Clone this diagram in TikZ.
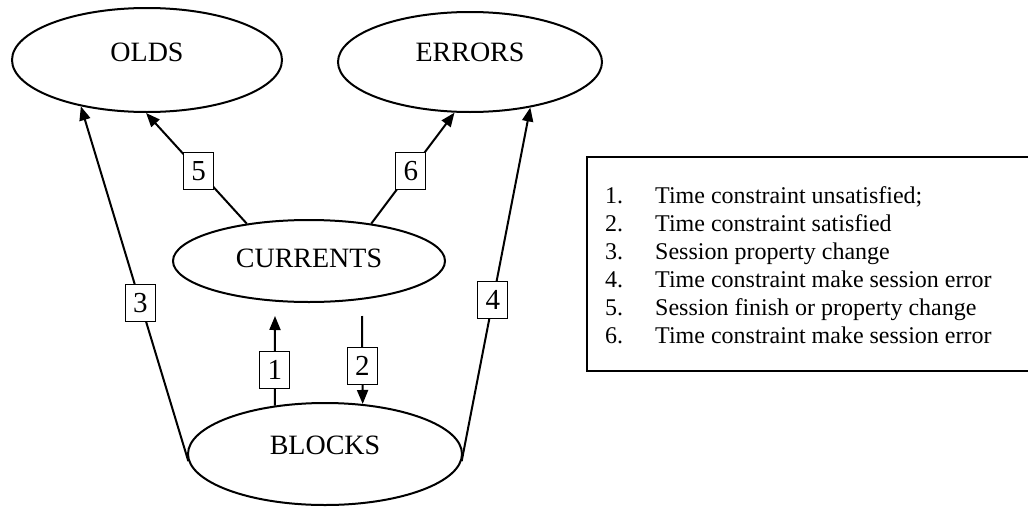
\documentclass[tikz,border=0pt]{standalone}
\usepackage{fontspec}
\setmainfont{Liberation Serif}
\usetikzlibrary{arrows.meta,shapes.geometric}
\begin{document}
\begin{tikzpicture}[x=1pt,y=-1pt,
  state/.style={ellipse, draw, line width=2pt, inner sep=0pt, font=\fontsize{28}{32}\selectfont},
  num/.style={draw, fill=white, line width=1pt, minimum width=30pt, minimum height=37pt, inner sep=0pt, font=\fontsize{29}{32}\selectfont},
  flow/.style={line width=2pt, -{Triangle[length=14pt,width=11pt]}},
  legendframe/.style={draw, line width=1.5pt, inner sep=0pt, anchor=north west},
  legendtext/.style={anchor=base west, inner sep=0pt, font=\fontsize{24}{28}\selectfont}]
\useasboundingbox (0,0) rectangle (1028,506);
% states
\node[state, minimum width=270pt, minimum height=104pt, text depth=16pt] (olds) at (147,60) {OLDS};
\node[state, minimum width=264pt, minimum height=100pt, text depth=20pt] (errors) at (470,62) {ERRORS};
\node[state, minimum width=272pt, minimum height=82pt, text depth=6pt] (currents) at (309,261) {CURRENTS};
\node[state, minimum width=274pt, minimum height=102pt, text depth=18pt] (blocks) at (325,454) {BLOCKS};
% free ends
\coordinate (c1) at (275,316);
\coordinate (c2) at (362,316);
% connectors
\draw[flow] (blocks.183) -- node[num, pos=0.446] (l3) {3} (olds.215);
\draw[flow] (blocks.357) -- node[num, pos=0.456] (l4) {4} (errors.323.4);
\draw[flow] (currents.149) -- node[num, pos=0.477] (l5) {5} (olds.269);
\draw[flow] (currents.31) -- node[num, pos=0.477] (l6) {6} (errors.253.2);
\draw[flow] (blocks.136.5) -- node[num, pos=0.4] (l1) {1} (c1);
\draw[flow] (c2) -- node[num, pos=0.57] (l2) {2} (blocks.53);
% legend
\node[legendframe, minimum width=446pt, minimum height=214pt] (legendbox) at (586,156) {};
\node[legendtext] (legend) at (605,203) {\begin{tabular}[t]{@{}p{50pt}@{}l@{}}
1.&Time constraint unsatisfied;\\
2.&Time constraint satisfied\\
3.&Session property change\\
4.&Time constraint make session error\\
5.&Session finish or property change\\
6.&Time constraint make session error
\end{tabular}};
\end{tikzpicture}
\end{document}
